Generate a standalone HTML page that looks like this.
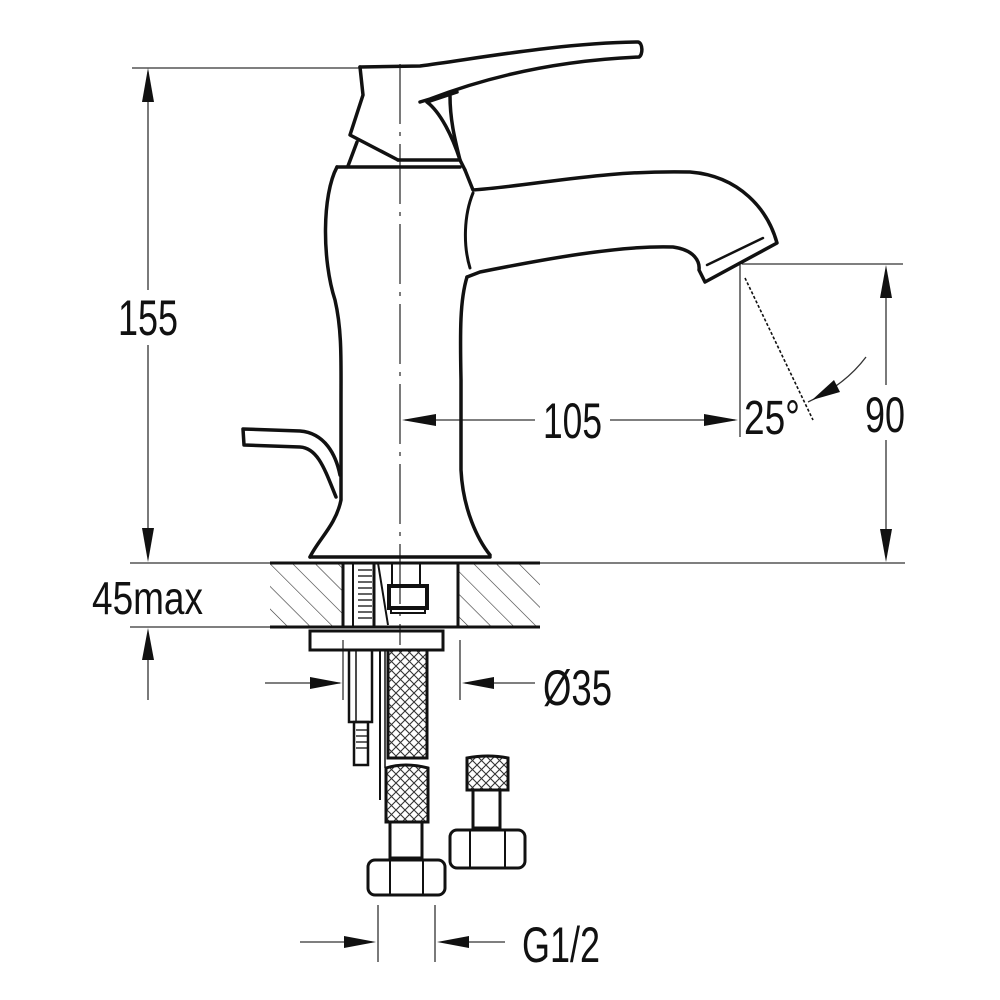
<!DOCTYPE html>
<html><head><meta charset="utf-8"><style>
html,body{margin:0;padding:0;background:#fff;}
svg{display:block;}
text{font-family:"Liberation Sans",sans-serif;fill:#111;}
</style></head><body>
<svg width="1000" height="1000" viewBox="0 0 1000 1000" xmlns="http://www.w3.org/2000/svg">
<defs>
<pattern id="hatch" patternUnits="userSpaceOnUse" width="16" height="16" patternTransform="rotate(-45)">
<line x1="0" y1="0" x2="0" y2="16" stroke="#333" stroke-width="1.2"/>
</pattern>
<pattern id="mesh" patternUnits="userSpaceOnUse" width="9" height="9">
<rect width="9" height="9" fill="#fff"/>
<path d="M0 0 L9 9 M9 0 L0 9" stroke="#333" stroke-width="1.1"/>
</pattern>
</defs>

<g stroke="#333" stroke-width="1.3" fill="none">
<line x1="132" y1="68" x2="360" y2="68"/>
<line x1="148" y1="72" x2="148" y2="290"/>
<line x1="148" y1="345" x2="148" y2="555"/>
<line x1="130" y1="563" x2="905" y2="563"/>
<line x1="130" y1="627" x2="540" y2="627"/>
<line x1="148" y1="633" x2="148" y2="700"/>
<line x1="405" y1="420" x2="535" y2="420"/>
<line x1="610" y1="420" x2="735" y2="420"/>
<line x1="740" y1="265" x2="740" y2="437"/>
<line x1="742" y1="264" x2="903" y2="264"/>
<line x1="886" y1="270" x2="886" y2="385"/>
<line x1="886" y1="440" x2="886" y2="556"/>
<line x1="745" y1="278" x2="813" y2="420" stroke-dasharray="3,2" stroke="#111" stroke-width="1.6"/>
<path d="M866 357 Q845 385 808 402"/>
<line x1="265" y1="683" x2="340" y2="683"/>
<line x1="465" y1="683" x2="535" y2="683"/>
<line x1="460" y1="640" x2="460" y2="700"/>
<line x1="343" y1="640" x2="343" y2="700"/>
<line x1="300" y1="942" x2="372" y2="942"/>
<line x1="442" y1="942" x2="505" y2="942"/>
<line x1="378" y1="905" x2="378" y2="962"/>
<line x1="435" y1="905" x2="435" y2="962"/>
<line x1="400" y1="64" x2="400" y2="645" stroke-dasharray="60,8,4,8"/>
</g>
<g fill="#111">
<polygon points="148,68 142,102 154,102"/>
<polygon points="148,562 142,528 154,528"/>
<polygon points="148,628 142,660 154,660"/>
<polygon points="402,420 436,414 436,426"/>
<polygon points="738,420 704,414 704,426"/>
<polygon points="886,265 880,298 892,298"/>
<polygon points="886,562 880,529 892,529"/>
<polygon points="812,400 834,380 840,392"/>
<polygon points="342,683 310,677 310,689"/>
<polygon points="462,683 494,677 494,689"/>
<polygon points="376,942 344,936 344,948"/>
<polygon points="437,942 469,936 469,948"/>
</g>

<rect x="270" y="563" width="73" height="64" fill="url(#hatch)"/>
<rect x="458" y="563" width="82" height="64" fill="url(#hatch)"/>
<g stroke="#111" stroke-width="3" fill="none">
<line x1="270" y1="563" x2="540" y2="563"/>
<line x1="270" y1="627" x2="540" y2="627"/>
<line x1="343" y1="563" x2="343" y2="627"/>
<line x1="458" y1="563" x2="458" y2="627"/>
<line x1="353" y1="563" x2="353" y2="627" stroke-width="2"/>
<line x1="374" y1="563" x2="374" y2="627"/>
<line x1="378" y1="563" x2="388" y2="625" stroke-width="2"/>
<line x1="392" y1="563" x2="392" y2="586" stroke-width="2"/>
<line x1="420" y1="563" x2="420" y2="586" stroke-width="2"/>
<rect x="389" y="586" width="38" height="22" stroke-width="4"/>
<rect x="391" y="608" width="34" height="5" stroke-width="2"/>
</g>
<g stroke="#111" stroke-width="1.3">
<line x1="358" y1="570" x2="372" y2="570"/><line x1="358" y1="576" x2="372" y2="576"/>
<line x1="358" y1="582" x2="372" y2="582"/><line x1="358" y1="588" x2="372" y2="588"/>
<line x1="358" y1="594" x2="372" y2="594"/><line x1="358" y1="600" x2="372" y2="600"/>
<line x1="358" y1="606" x2="372" y2="606"/><line x1="358" y1="612" x2="372" y2="612"/>
<line x1="358" y1="618" x2="372" y2="618"/>
</g>

<g stroke="#111" stroke-width="3" fill="none">
<rect x="310" y="631" width="133" height="19"/>
<rect x="349" y="650" width="23" height="72" stroke-width="2.5"/>
<line x1="356" y1="650" x2="356" y2="722" stroke-width="1.5"/>
<rect x="354" y="722" width="14" height="43" stroke-width="2.5"/>
<line x1="380" y1="650" x2="380" y2="800" stroke-width="2"/>
<line x1="385" y1="650" x2="385" y2="768" stroke-width="1.5"/>
<rect x="388" y="650" width="39" height="108" fill="url(#mesh)"/>
<path d="M386 768 Q405 762 428 768 L428 822 L386 822 Z" fill="url(#mesh)"/>
<rect x="390" y="822" width="32" height="36"/>
<rect x="368" y="860" width="77" height="35" rx="7"/>
<line x1="390" y1="860" x2="390" y2="895" stroke-width="2"/>
<line x1="423" y1="860" x2="423" y2="895" stroke-width="2"/>
<path d="M467 758 Q488 754 508 758 L508 790 L467 790 Z" fill="url(#mesh)"/>
<rect x="473" y="790" width="27" height="38"/>
<rect x="450" y="830" width="75" height="38" rx="7"/>
<line x1="470" y1="830" x2="470" y2="868" stroke-width="2"/>
<line x1="505" y1="830" x2="505" y2="868" stroke-width="2"/>
</g>
<g stroke="#111" stroke-width="1.3">
<line x1="356" y1="730" x2="367" y2="730"/><line x1="356" y1="736" x2="367" y2="736"/>
<line x1="356" y1="742" x2="367" y2="742"/><line x1="356" y1="748" x2="367" y2="748"/>
</g>

<g stroke="#111" stroke-width="3.5" fill="none" stroke-linejoin="round" stroke-linecap="round">
<path d="M337 167 L460 167"/>
<path d="M337 167 C322 195 322 260 335 300 C342 330 341 360 341 400 L341 500 C336 525 318 540 310 557"/>
<path d="M467 277 C460 300 460 330 461 380 L461 470 C463 510 478 540 490 555"/>
<path d="M310 557 L490 557"/>
<path d="M360 67 L363 95 L350 135 L398 160"/>
<path d="M357 142 L348 166"/>
<path d="M398 160 L460 160 L465 170"/>
<path d="M360 67 L420 66 C480 58 560 43 638 42 C643 43 643 55 639 57 C570 60 500 72 430 99 L420 102"/>
<path d="M427 102 L457 92"/>
<path d="M427 102 C440 112 452 135 460 160"/>
<path d="M450 96 C450 120 455 140 460 160"/>
<path d="M465 170 L473 190 C540 185 600 170 690 172 C740 176 768 210 777 243 L705 282 L699 270 C700 262 695 250 673 247 C620 245 540 260 480 272 L467 277"/>
<path d="M707 265 L763 238" stroke-width="2.5"/>
<path d="M473 193 C464 215 463 245 470 268" stroke-width="3"/>
<path d="M336 497 C325 470 318 448 300 447 L244 445 L243 429 L300 431 C325 433 336 455 340 475"/>
</g>

<text x="118" y="335" font-size="50" textLength="60" lengthAdjust="spacingAndGlyphs">155</text>
<text x="92" y="614" font-size="46" textLength="111" lengthAdjust="spacingAndGlyphs">45max</text>
<text x="543" y="438" font-size="50" textLength="59" lengthAdjust="spacingAndGlyphs">105</text>
<text x="744" y="434" font-size="48" textLength="56" lengthAdjust="spacingAndGlyphs">25°</text>
<text x="865" y="432" font-size="50" textLength="40" lengthAdjust="spacingAndGlyphs">90</text>
<text x="543" y="705" font-size="50" textLength="69" lengthAdjust="spacingAndGlyphs">Ø35</text>
<text x="522" y="962" font-size="50" textLength="78" lengthAdjust="spacingAndGlyphs">G1/2</text>
</svg>
</body></html>
